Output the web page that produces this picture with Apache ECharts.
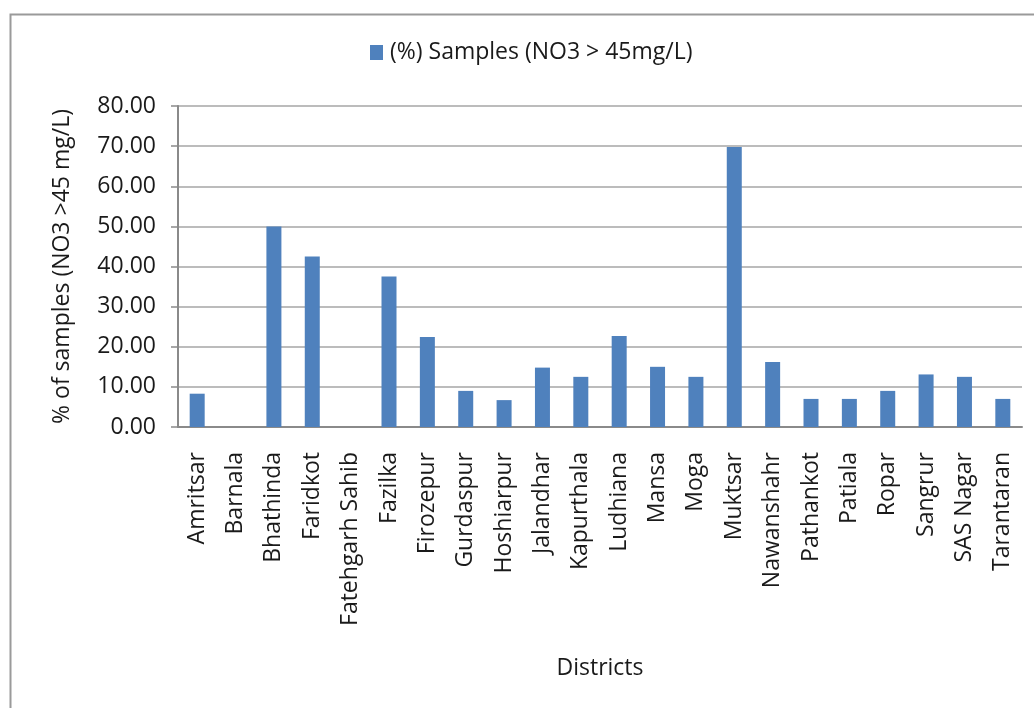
<!DOCTYPE html>
<html>
<head>
<meta charset="utf-8">
<script src="https://cdn.jsdelivr.net/npm/echarts@6/dist/echarts.min.js"></script>
<style>
html,body{margin:0;padding:0;background:#fff;}
#chart{width:1034px;height:708px;}
</style>
</head>
<body>
<div id="chart"></div>
<script>
const categories = ["Amritsar","Barnala","Bhathinda","Faridkot","Fatehgarh Sahib","Fazilka","Firozepur","Gurdaspur","Hoshiarpur","Jalandhar","Kapurthala","Ludhiana","Mansa","Moga","Muktsar","Nawanshahr","Pathankot","Patiala","Ropar","Sangrur","SAS Nagar","Tarantaran"];
const samplesPct = [8.3,0,50.0,42.5,0,37.5,22.4,9.0,6.7,14.8,12.5,22.7,15.0,12.5,69.8,16.2,7.0,7.0,9.0,13.1,12.5,7.0];
const seriesName = "(%) Samples (NO3 > 45mg/L)";
const yAxisTitle = "% of samples (NO3 >45 mg/L)";
const xAxisTitle = "Districts";

const FONT = "Open Sans";
const chart = echarts.init(document.getElementById('chart'));
chart.setOption({
  backgroundColor: '#fff',
  animation: false,
  textStyle: {fontFamily: FONT, color: '#1a1a1a'},
  graphic: [{
    type: 'rect', left: 8, top: 12, z: -1, silent: true,
    shape: {width: 1100, height: 800},
    style: {fill: 'none', stroke: '#9a9a9a', lineWidth: 2}
  }],
  legend: {
    top: 36, left: 365,
    itemWidth: 13, itemHeight: 15, icon: 'rect', itemGap: 10,
    textStyle: {fontFamily: FONT, fontSize: 23, color: '#1a1a1a', padding: [0, 0, 0, 2]},
    data: [seriesName]
  },
  grid: {left: 178, right: 12, top: 106, bottom: 281},
  xAxis: {
    type: 'category', data: categories,
    axisLine: {lineStyle: {color: '#8a8a8a', width: 2}},
    axisTick: {show: false},
    axisLabel: {rotate: 90, interval: 0, margin: 25, fontSize: 23, fontFamily: FONT, color: '#1a1a1a'},
    name: xAxisTitle, nameLocation: 'middle', nameGap: 230,
    nameTextStyle: {fontSize: 23, fontFamily: FONT, color: '#1a1a1a'}
  },
  yAxis: {
    type: 'value', min: 0, max: 80, interval: 10,
    axisLine: {show: true, lineStyle: {color: '#8a8a8a', width: 2}},
    axisTick: {show: true, inside: false, length: 7, lineStyle: {color: '#8a8a8a', width: 1.5}},
    splitLine: {lineStyle: {color: '#a6a6a6', width: 1.5}},
    axisLabel: {margin: 22, fontSize: 23, fontFamily: FONT, color: '#1a1a1a', formatter: v => v.toFixed(2)},
    name: yAxisTitle, nameLocation: 'middle', nameGap: 104,
    nameTextStyle: {fontSize: 23, fontFamily: FONT, color: '#1a1a1a'}
  },
  series: [{
    name: seriesName, type: 'bar', data: samplesPct, barWidth: 15,
    itemStyle: {color: '#4F81BD'}
  }]
});
</script>
</body>
</html>
